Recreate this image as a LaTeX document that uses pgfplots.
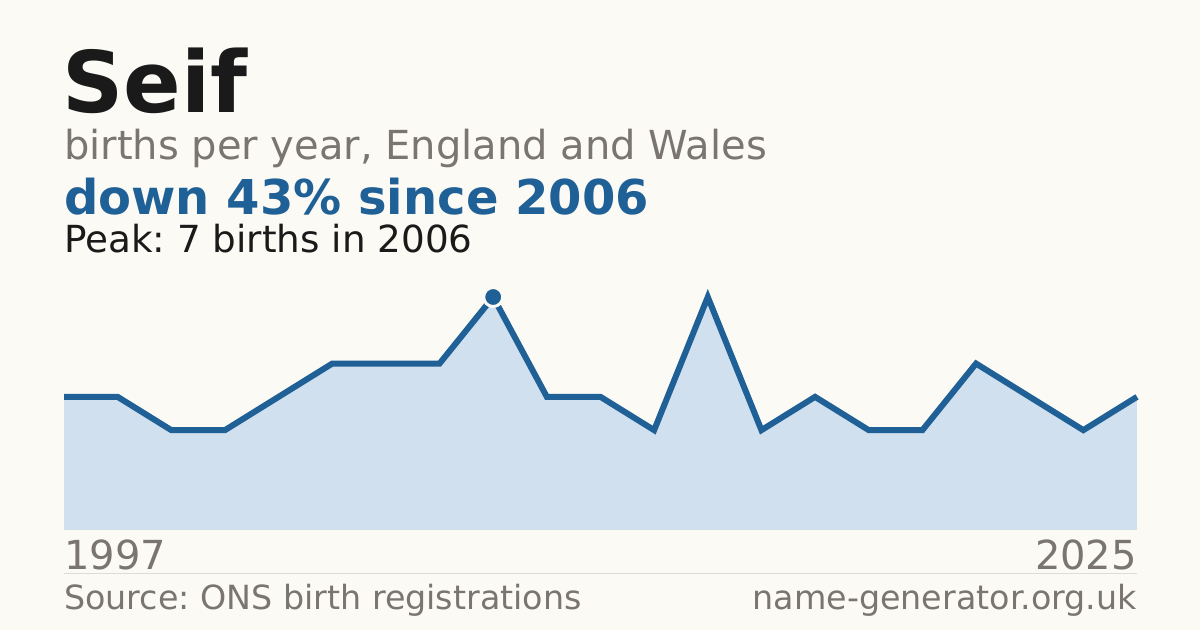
\documentclass[border=0pt]{standalone}
\usepackage{fontspec}
\setmainfont{DejaVu Sans}
\usepackage{pgfplots}
\pgfplotsset{compat=1.18}
\usepackage{pgfplotstable}

\definecolor{bg}{HTML}{FBFAF5}
\definecolor{ink}{HTML}{1A1A1A}
\definecolor{muted}{HTML}{7A766F}
\definecolor{accent}{HTML}{1F6096}
\definecolor{areafill}{HTML}{D0E0EF}
\definecolor{rule}{HTML}{DDDCD6}

% births per year (years with too few births are not shown)
\pgfplotstableread{
idx births
0  4
1  4
2  3
3  3
4  4
5  5
6  5
7  5
8  7
9  4
10 4
11 3
12 7
13 3
14 4
15 3
16 3
17 5
18 4
19 3
20 4
}\births

\begin{document}
\frenchspacing
\begin{tikzpicture}[x=1bp,y=1bp]
  \fill[bg] (0,0) rectangle (1200,630);

  \begin{axis}[
      at={(64bp,100bp)}, anchor=south west,
      width=1073bp, height=233bp, scale only axis,
      xmin=0, xmax=20, ymin=0, ymax=7,
      axis lines=none, clip=false,
    ]
    \addplot[fill=areafill, draw=none] table[x=idx,y=births] {\births} \closedcycle;
    \addplot[accent, line width=6bp, line join=miter] table[x=idx,y=births] {\births};
    \addplot[only marks, mark=*, mark size=9.5bp,
      mark options={fill=accent, draw=bg, line width=3bp}]
      coordinates {(8,7)};
  \end{axis}

  % titles
  \node[anchor=base west, inner sep=0, text=ink,
    font=\fontsize{85bp}{96bp}\selectfont\bfseries] at (62,517) {Seif};
  \node[anchor=base west, inner sep=0, text=muted,
    font=\fontsize{40bp}{46bp}\selectfont] at (64,470) {births per year, England and Wales};
  \node[anchor=base west, inner sep=0, text=accent,
    font=\fontsize{48bp}{56bp}\selectfont\bfseries] at (64,415) {down 43\% since 2006};
  \node[anchor=base west, inner sep=0, text=ink,
    font=\fontsize{37.3bp}{42bp}\selectfont] at (64,377) {Peak: 7 births in 2006};

  % year labels
  \node[anchor=base west, inner sep=0, text=muted,
    font=\fontsize{40bp}{46bp}\selectfont] at (64,60) {1997};
  \node[anchor=base east, inner sep=0, text=muted,
    font=\fontsize{40bp}{46bp}\selectfont] at (1137,60) {2025};

  \draw[rule, line width=1bp] (64,56) -- (1137,56);

  % footer
  \node[anchor=base west, inner sep=0, text=muted,
    font=\fontsize{33.3bp}{38bp}\selectfont] at (64,20) {Source: ONS birth registrations};
  \node[anchor=base east, inner sep=0, text=muted,
    font=\fontsize{33.3bp}{38bp}\selectfont] at (1137,20) {name-generator.org.uk};
\end{tikzpicture}
\end{document}
